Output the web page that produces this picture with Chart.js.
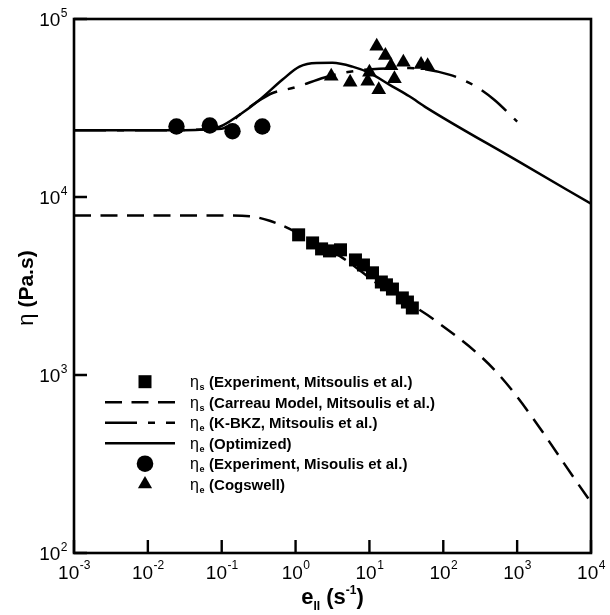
<!DOCTYPE html>
<html>
<head>
<meta charset="utf-8">
<script src="https://cdn.jsdelivr.net/npm/chart.js@4.4.1/dist/chart.umd.min.js"></script>
<style>
  html, body { margin: 0; padding: 0; background: #fff; }
  #wrap { width: 610px; height: 615px; }
</style>
</head>
<body>
<div id="wrap"><canvas id="viscosity" width="610" height="615"></canvas></div>
<script>
/*******************************************************************************
 * DATA
 */

// eta_s experiment (squares)
const shearExpX = [1.10, 1.70, 2.25, 2.88, 4.06, 6.47, 8.30, 11.0, 14.5, 17.0, 20.5, 27.9, 32.7, 38.1];
const shearExpY = [6130, 5520, 5110, 4980, 5050, 4430, 4150, 3750, 3330, 3210, 3040, 2710, 2570, 2380];

// eta_s Carreau model (dashed)
const carreauX = [0.001, 0.01, 0.1, 0.239, 0.446, 0.83, 1.545, 3.94, 13.6, 83, 571, 10000];
const carreauY = [7870, 7870, 7870, 7790, 7350, 6620, 5740, 4670, 3210, 1985, 1000, 193];

// eta_e K-BKZ (dash-dot)
const kbkzX = [0.001, 0.01, 0.1, 0.175, 0.306, 0.489, 0.969, 2.47, 4.59, 13.6, 34.7, 120, 262, 489, 1000];
const kbkzY = [23700, 23700, 24200, 29000, 34400, 38400, 41200, 46900, 50000, 52600, 53000, 48700, 42300, 35200, 26500];

// eta_e optimized (solid)
const optX = [0.001, 0.01, 0.0505, 0.094, 0.175, 0.327, 0.667, 1.13, 1.92, 3.16, 5.89, 10, 18.6, 34.7, 58.9, 1000, 10000];
const optY = [23700, 23700, 23900, 24800, 29000, 35200, 45700, 54000, 56600, 56700, 54000, 49800, 42800, 36800, 31800, 16000, 9160];

// eta_e experiment (circles)
const extExpX = [0.0244, 0.069, 0.14, 0.355];
const extExpY = [24900, 25200, 23400, 24900];

// eta_e Cogswell (triangles)
const cogX = [3.04, 5.48, 9.48, 10.0, 12.55, 16.45, 19.6, 13.37, 21.8, 28.8, 50.0, 61.4];
const cogY = [47700, 44100, 44700, 50200, 70300, 62300, 54700, 40100, 46100, 57100, 55500, 54700];

// axes
const xTicks = [1e-3, 1e-2, 1e-1, 1e0, 1e1, 1e2, 1e3, 1e4];
const xTickExp = ['-3', '-2', '-1', '0', '1', '2', '3', '4'];
const yTicks = [1e2, 1e3, 1e4, 1e5];
const yTickExp = ['2', '3', '4', '5'];

// legend
const legendSubs = ['s', 's', 'e', 'e', 'e', 'e'];
const legendTexts = [
  '(Experiment, Mitsoulis et al.)',
  '(Carreau Model, Mitsoulis et al.)',
  '(K-BKZ, Mitsoulis et al.)',
  '(Optimized)',
  '(Experiment, Misoulis et al.)',
  '(Cogswell)'
];
const legendKinds = ['square', 'dash', 'dashdot', 'solid', 'circle', 'triangle'];

/*******************************************************************************
 * CHART
 */

const FONT = '"Liberation Sans", Arial, Helvetica, sans-serif';
const DASH = [17, 9.5];
const DASHDOT = [32, 11, 7, 11];

const pts = (xs, ys) => xs.map((x, i) => ({ x: x, y: ys[i] }));

const markerOpts = (style, r) => ({
  showLine: false,
  pointStyle: style,
  pointRadius: r,
  pointHoverRadius: r,
  pointBackgroundColor: '#000',
  pointBorderColor: '#000',
  pointBorderWidth: 0,
});

const lineOpts = (dash) => ({
  showLine: true,
  borderColor: '#000',
  borderWidth: 2.5,
  borderDash: dash,
  pointRadius: 0,
  pointHoverRadius: 0,
  fill: false,
  cubicInterpolationMode: 'monotone',
});

function drawPower(ctx, exp, x, baseline, align, supRise) {
  ctx.font = '19px ' + FONT;
  const w1 = ctx.measureText('10').width;
  ctx.font = '12px ' + FONT;
  const w2 = ctx.measureText(exp).width;
  const x0 = align === 'center' ? x - (w1 + w2) / 2 : x - (w1 + w2);
  ctx.font = '19px ' + FONT;
  ctx.fillText('10', x0, baseline);
  ctx.font = '12px ' + FONT;
  ctx.fillText(exp, x0 + w1 + 0.5, baseline - supRise);
}

function drawSymbol(ctx, kind, cx, cy) {
  ctx.beginPath();
  if (kind === 'square') {
    ctx.rect(cx - 6.5, cy - 6.5, 13, 13);
    ctx.fill();
  } else if (kind === 'circle') {
    ctx.arc(cx, cy, 8.3, 0, Math.PI * 2);
    ctx.fill();
  } else if (kind === 'triangle') {
    const r = 8.2;
    ctx.moveTo(cx, cy - r);
    ctx.lineTo(cx + r * 0.866, cy + r / 2);
    ctx.lineTo(cx - r * 0.866, cy + r / 2);
    ctx.closePath();
    ctx.fill();
  } else {
    ctx.setLineDash(kind === 'dash' ? DASH : kind === 'dashdot' ? DASHDOT : []);
    ctx.lineWidth = 2.5;
    ctx.moveTo(105, cy);
    ctx.lineTo(175, cy);
    ctx.stroke();
    ctx.setLineDash([]);
  }
}

const decorations = {
  id: 'decorations',
  afterDraw(chart) {
    const { ctx, chartArea: a, scales: { x, y } } = chart;
    ctx.save();
    ctx.fillStyle = '#000';
    ctx.strokeStyle = '#000';

    // frame
    ctx.lineWidth = 2.6;
    ctx.strokeRect(a.left, a.top, a.right - a.left, a.bottom - a.top);

    // inward major ticks
    ctx.lineWidth = 2.4;
    ctx.beginPath();
    xTicks.forEach(v => {
      const px = x.getPixelForValue(v);
      ctx.moveTo(px, a.bottom);
      ctx.lineTo(px, a.bottom - 13);
    });
    yTicks.forEach(v => {
      const py = y.getPixelForValue(v);
      ctx.moveTo(a.left, py);
      ctx.lineTo(a.left + 13, py);
    });
    ctx.stroke();

    // tick labels
    ctx.textAlign = 'left';
    ctx.textBaseline = 'alphabetic';
    xTicks.forEach((v, i) => drawPower(ctx, xTickExp[i], x.getPixelForValue(v), a.bottom + 26, 'center', 10));
    yTicks.forEach((v, i) => drawPower(ctx, yTickExp[i], a.left - 7, y.getPixelForValue(v) + 7, 'right', 9));

    // x title: e_II (s^-1)
    const parts = [
      { t: 'e', f: 'bold 22px ', dy: 0 },
      { t: 'II', f: 'bold 12px ', dy: 6 },
      { t: ' (s', f: 'bold 22px ', dy: 0 },
      { t: '-1', f: 'bold 12px ', dy: -10 },
      { t: ')', f: 'bold 22px ', dy: 0 },
    ];
    let total = 0;
    parts.forEach(p => { ctx.font = p.f + FONT; p.w = ctx.measureText(p.t).width; total += p.w; });
    let cx = (a.left + a.right) / 2 - total / 2;
    parts.forEach(p => { ctx.font = p.f + FONT; ctx.fillText(p.t, cx, 604 + p.dy); cx += p.w; });

    // y title: eta (Pa.s)
    ctx.save();
    ctx.translate(26, 288);
    ctx.rotate(-Math.PI / 2);
    ctx.font = '22px ' + FONT;
    const we = ctx.measureText('\u03B7').width;
    ctx.font = 'bold 21px ' + FONT;
    const wr = ctx.measureText(' (Pa.s)').width;
    ctx.font = '22px ' + FONT;
    ctx.fillText('\u03B7', -(we + wr) / 2, 7);
    ctx.font = 'bold 21px ' + FONT;
    ctx.fillText(' (Pa.s)', -(we + wr) / 2 + we, 7);
    ctx.restore();

    // legend
    legendTexts.forEach((txt, i) => {
      const ry = 381.7 + i * 20.5;
      drawSymbol(ctx, legendKinds[i], 145, ry);
      const base = ry + 5.5;
      let lx = 190;
      ctx.font = '16px ' + FONT;
      ctx.fillText('\u03B7', lx, base);
      lx += ctx.measureText('\u03B7').width;
      ctx.font = 'bold 9px ' + FONT;
      ctx.fillText(legendSubs[i], lx + 0.5, base + 3);
      lx += ctx.measureText(legendSubs[i]).width + 1;
      ctx.font = 'bold 15px ' + FONT;
      ctx.fillText(' ' + txt, lx, base);
    });

    ctx.restore();
  }
};

new Chart(document.getElementById('viscosity'), {
  type: 'scatter',
  data: {
    datasets: [
      { label: 'cogswell', data: pts(cogX, cogY), ...markerOpts('triangle', 8.5) },
      { label: 'ext exp', data: pts(extExpX, extExpY), ...markerOpts('circle', 8.2) },
      { label: 'shear exp', data: pts(shearExpX, shearExpY), ...markerOpts('rect', 9.2) },
      { label: 'optimized', data: pts(optX, optY), ...lineOpts([]) },
      { label: 'kbkz', data: pts(kbkzX, kbkzY), ...lineOpts(DASHDOT) },
      { label: 'carreau', data: pts(carreauX, carreauY), ...lineOpts(DASH) },
    ],
  },
  options: {
    responsive: false,
    animation: false,
    devicePixelRatio: 1,
    layout: { padding: { left: 0, right: 19, top: 19, bottom: 0 } },
    plugins: {
      legend: { display: false },
      tooltip: { enabled: false },
    },
    scales: {
      x: {
        type: 'logarithmic',
        min: 1e-3,
        max: 1e4,
        afterBuildTicks: s => { s.ticks = xTicks.map(v => ({ value: v })); },
        afterFit: s => { s.height = 62; },
        ticks: { display: false },
        grid: { display: false },
        border: { display: false },
      },
      y: {
        type: 'logarithmic',
        min: 1e2,
        max: 1e5,
        afterBuildTicks: s => { s.ticks = yTicks.map(v => ({ value: v })); },
        afterFit: s => { s.width = 74; },
        ticks: { display: false },
        grid: { display: false },
        border: { display: false },
      },
    },
  },
  plugins: [decorations],
});
</script>
</body>
</html>
